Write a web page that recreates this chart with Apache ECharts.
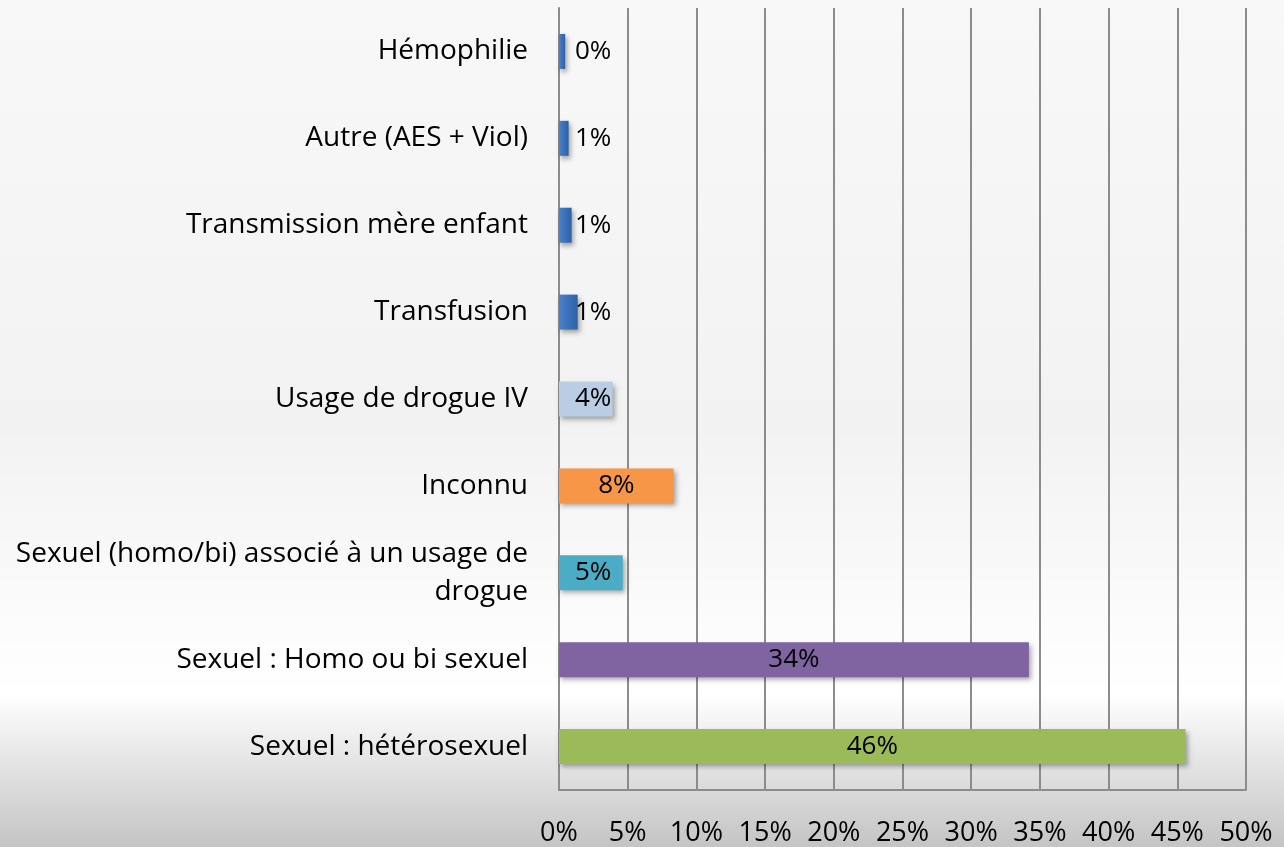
<!DOCTYPE html>
<html>
<head>
<meta charset="utf-8">
<script src="https://cdn.jsdelivr.net/npm/echarts@6/dist/echarts.min.js"></script>
<style>
  html, body { margin: 0; padding: 0; }
  #chart { width: 1284px; height: 847px; }
</style>
</head>
<body>
<div id="chart"></div>
<script>
// categories from top to bottom as drawn
const categories = [
  'Hémophilie',
  'Autre (AES + Viol)',
  'Transmission mère enfant',
  'Transfusion',
  'Usage de drogue IV',
  'Inconnu',
  'Sexuel (homo/bi) associé à un usage de\ndrogue',
  'Sexuel : Homo ou bi sexuel',
  'Sexuel : hétérosexuel'
];
// share in percent
const shares = [0.45, 0.7, 0.92, 1.36, 3.9, 8.35, 4.64, 34.2, 45.6];
const xTicks = [0, 5, 10, 15, 20, 25, 30, 35, 40, 45, 50];

const blue = new echarts.graphic.LinearGradient(0, 0, 1, 0, [
  { offset: 0, color: '#4a82cc' },
  { offset: 1, color: '#2c5fa6' }
]);
const barColors = [blue, blue, blue, blue, '#b9cde5', '#f79646', '#4bacc6', '#8064a2', '#9bbb59'];
const FONT = '"Open Sans", sans-serif';

const chart = echarts.init(document.getElementById('chart'));
chart.setOption({
  backgroundColor: new echarts.graphic.LinearGradient(0, 0, 0, 1, [
    { offset: 0, color: '#f8f8f8' },
    { offset: 0.5, color: '#f2f2f2' },
    { offset: 0.82, color: '#ffffff' },
    { offset: 0.87, color: '#eeeeee' },
    { offset: 1, color: '#c4c4c4' }
  ]),
  animation: false,
  grid: { left: 559, right: 38, top: 8, bottom: 55 },
  xAxis: {
    type: 'value',
    min: 0,
    max: 50,
    interval: 5,
    axisLine: { show: true, lineStyle: { color: '#8c8c8c', width: 2 } },
    axisTick: { show: false },
    splitLine: { show: true, lineStyle: { color: '#8c8c8c', width: 2 } },
    axisLabel: {
      margin: 30,
      fontSize: 27,
      fontFamily: FONT,
      color: '#000',
      formatter: v => (xTicks.indexOf(v) >= 0 ? v + '%' : '')
    }
  },
  yAxis: {
    type: 'category',
    inverse: true,
    data: categories,
    axisLine: { show: true, lineStyle: { color: '#8c8c8c', width: 2 } },
    axisTick: { show: false },
    axisLabel: {
      margin: 31,
      fontSize: 28,
      lineHeight: 38,
      fontFamily: FONT,
      color: '#000',
      align: 'right'
    }
  },
  series: [{
    type: 'bar',
    barWidth: 35,
    data: shares.map((v, i) => ({
      value: v,
      itemStyle: { color: barColors[i] },
      label: v < 5
        ? { position: 'insideLeft', distance: 16 }
        : { position: 'inside' }
    })),
    itemStyle: {
      shadowColor: 'rgba(0,0,0,0.35)',
      shadowBlur: 5,
      shadowOffsetX: 2,
      shadowOffsetY: 3
    },
    label: {
      show: true,
      fontSize: 26,
      fontFamily: FONT,
      color: '#000',
      formatter: p => Math.round(p.value) + '%'
    }
  }]
});
</script>
</body>
</html>
